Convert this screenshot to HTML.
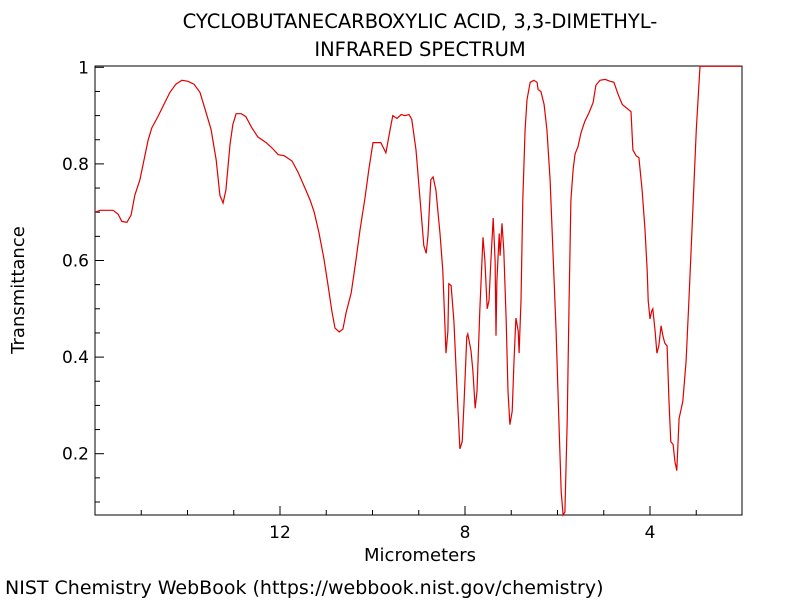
<!DOCTYPE html>
<html><head><meta charset="utf-8"><style>
body{margin:0;background:#fff;width:800px;height:600px;overflow:hidden;font-family:"Liberation Sans","DejaVu Sans",sans-serif}
</style></head><body>
<svg id="chart" width="800" height="600" xmlns="http://www.w3.org/2000/svg" font-family="DejaVu Sans, Liberation Sans, sans-serif">
<text x="420" y="28" text-anchor="middle" font-size="19.5">CYCLOBUTANECARBOXYLIC ACID, 3,3-DIMETHYL-</text>
<text x="420" y="56" text-anchor="middle" font-size="19.5">INFRARED SPECTRUM</text>
<text transform="translate(24,290) rotate(-90)" text-anchor="middle" font-size="18">Transmittance</text>
<text x="420" y="561" text-anchor="middle" font-size="18">Micrometers</text>
<text x="5" y="594" font-size="19">NIST Chemistry WebBook (https://webbook.nist.gov/chemistry)</text>
<rect x="95" y="66" width="647" height="449" fill="none" stroke="#000" stroke-width="1"/>
<g id="ticks"></g>
<path id="spectrum" fill="none" stroke="#e00000" stroke-width="1.2"/>
</svg>
<script>
const wavelength=[16.00,15.89,15.61,15.50,15.42,15.31,15.22,15.14,15.03,14.94,14.85,14.77,14.64,14.49,14.38,14.25,14.12,13.99,13.86,13.73,13.62,13.49,13.38,13.30,13.23,13.17,13.08,13.02,12.95,12.84,12.74,12.61,12.48,12.30,12.17,12.04,11.91,11.74,11.61,11.46,11.35,11.26,11.16,11.05,10.96,10.88,10.81,10.72,10.64,10.57,10.46,10.36,10.27,10.16,10.08,9.99,9.90,9.82,9.71,9.62,9.56,9.47,9.38,9.30,9.21,9.15,9.06,8.97,8.89,8.84,8.80,8.74,8.69,8.63,8.54,8.48,8.41,8.37,8.35,8.30,8.24,8.17,8.11,8.06,8.02,7.96,7.94,7.87,7.83,7.78,7.74,7.68,7.61,7.57,7.52,7.48,7.44,7.39,7.35,7.33,7.31,7.26,7.24,7.20,7.16,7.11,7.07,7.03,6.98,6.94,6.90,6.85,6.83,6.79,6.75,6.70,6.66,6.59,6.51,6.44,6.42,6.36,6.29,6.23,6.16,6.10,6.03,5.97,5.92,5.88,5.84,5.79,5.75,5.71,5.66,5.62,5.56,5.49,5.41,5.32,5.23,5.17,5.08,4.97,4.86,4.78,4.69,4.60,4.41,4.37,4.30,4.24,4.17,4.11,4.06,4.04,4.00,3.96,3.94,3.89,3.85,3.81,3.76,3.72,3.68,3.63,3.59,3.55,3.50,3.46,3.42,3.37,3.29,3.22,3.16,3.09,3.00,2.92,2.01];
const transmittance=[0.700,0.704,0.704,0.696,0.681,0.679,0.694,0.735,0.767,0.808,0.850,0.875,0.898,0.927,0.948,0.965,0.973,0.971,0.965,0.948,0.913,0.871,0.808,0.735,0.719,0.746,0.840,0.881,0.904,0.904,0.898,0.875,0.856,0.844,0.833,0.819,0.817,0.806,0.783,0.750,0.725,0.700,0.658,0.604,0.548,0.496,0.460,0.452,0.458,0.492,0.533,0.600,0.663,0.731,0.788,0.844,0.844,0.844,0.823,0.871,0.900,0.894,0.902,0.900,0.902,0.892,0.829,0.725,0.631,0.615,0.652,0.767,0.773,0.746,0.656,0.579,0.408,0.454,0.552,0.548,0.475,0.329,0.210,0.225,0.308,0.442,0.448,0.413,0.371,0.294,0.329,0.496,0.648,0.600,0.500,0.517,0.600,0.688,0.600,0.444,0.558,0.656,0.610,0.677,0.621,0.475,0.329,0.260,0.288,0.392,0.481,0.454,0.408,0.517,0.725,0.871,0.933,0.969,0.973,0.969,0.954,0.950,0.923,0.871,0.767,0.621,0.454,0.267,0.121,0.073,0.079,0.267,0.517,0.725,0.790,0.821,0.835,0.865,0.888,0.906,0.927,0.963,0.973,0.975,0.971,0.969,0.944,0.923,0.908,0.829,0.817,0.813,0.746,0.667,0.579,0.517,0.479,0.496,0.500,0.454,0.408,0.423,0.465,0.444,0.429,0.423,0.308,0.225,0.219,0.183,0.165,0.273,0.308,0.392,0.517,0.669,0.871,1.002,1.002];
const xTickLabels=[12,8,4];
const yTickLabels=[0.2,0.4,0.6,0.8,1];
function xs(u){return 95+(16-u)*46.25;}
function ys(t){return 67.3+(1-t)*483;}
const NS="http://www.w3.org/2000/svg";
const g=document.getElementById('ticks');
function line(x1,y1,x2,y2,name){const l=document.createElementNS(NS,'line');l.setAttribute('x1',x1);l.setAttribute('y1',y1);l.setAttribute('x2',x2);l.setAttribute('y2',y2);l.setAttribute('stroke','#000');


g.appendChild(l);}
function txt(x,y,s,anchor,name){const t=document.createElementNS(NS,'text');t.setAttribute('x',x);t.setAttribute('y',y);t.setAttribute('text-anchor',anchor);t.setAttribute('font-size','17');t.textContent=s;


g.appendChild(t);}
for(let u=3;u<=15;u++){const x=xs(u);const major=u%4===0;line(x,515,x,515-(major?9:5),'x-tick');}
xTickLabels.forEach(v=>txt(xs(v),538,String(v),'middle','x-tick-label'));
for(let k=2;k<=20;k++){const t=k*0.05;const y=ys(t);if(y>515)continue;const major=k%4===0;line(95,y,95+(major?9:5),y,'y-tick');}
yTickLabels.forEach(v=>txt(89,ys(v)+6,String(v),'end','y-tick-label'));
let d='';
for(let i=0;i<wavelength.length;i++){let y=Math.max(66,Math.min(515,ys(transmittance[i])));d+=(i?'L':'M')+xs(wavelength[i]).toFixed(1)+','+y.toFixed(1);}
document.getElementById('spectrum').setAttribute('d',d);
</script>
</body></html>
